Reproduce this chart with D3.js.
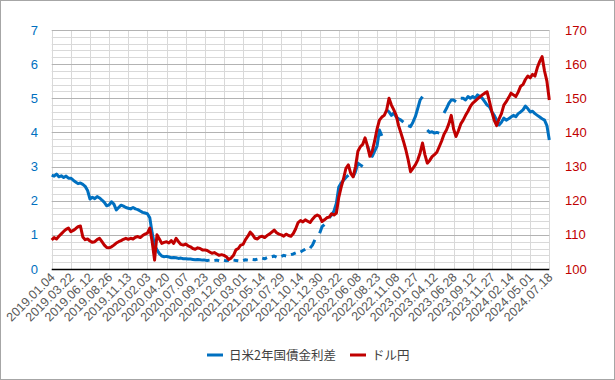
<!DOCTYPE html>
<html><head><meta charset="utf-8">
<script src="https://cdn.jsdelivr.net/npm/d3@7"></script>
<style>
html,body{margin:0;padding:0;background:#fff;}
svg{display:block;}
</style></head>
<body>
<svg id="chart" width="615" height="380"></svg>
<script>
// ---- data ----
const tickLabels = ["2019.01.04","2019.03.22","2019.06.12","2019.08.26","2019.11.13","2020.02.03","2020.04.20","2020.07.07","2020.09.23","2020.12.09","2021.03.01","2021.05.14","2021.07.29","2021.10.14","2021.12.30","2022.03.22","2022.06.08","2022.08.23","2022.11.08","2023.01.27","2023.04.12","2023.06.28","2023.09.12","2023.11.27","2024.02.14","2024.05.01","2024.07.18"];
const samplesPerTick = 8;
const seriesNames = ["日米2年国債金利差","ドル円"];
const spread = [
 2.75,2.72,2.78,2.70,2.73,2.68,2.72,2.66,
 2.66,2.60,2.55,2.50,2.52,2.48,2.42,2.30,
 2.05,2.10,2.06,2.12,2.08,2.02,1.95,1.85,
 1.88,1.97,1.90,1.73,1.80,1.87,1.84,1.80,
 1.78,1.76,1.80,1.76,1.74,1.70,1.66,1.64,
 1.62,1.50,1.05,0.70,0.56,0.45,0.38,0.36,
 0.37,0.35,0.33,0.34,0.33,0.31,0.32,0.30,
 0.30,0.29,0.29,0.28,0.27,0.28,0.27,0.26,
 0.26,0.25,0.26,null,0.25,0.26,0.24,null,
 0.25,0.24,0.25,null,0.26,0.25,0.24,null,
 0.25,0.27,0.26,null,0.28,0.27,0.29,null,
 0.32,0.30,0.33,null,0.36,0.38,0.35,null,
 0.37,0.40,0.38,null,0.42,0.44,0.47,null,
 0.50,0.54,0.58,null,0.61,0.70,0.85,null,
 1.05,1.24,1.30,null,1.50,1.58,1.70,1.93,
 2.40,2.52,2.60,2.68,2.75,null,2.70,2.85,
 3.10,3.05,3.00,null,3.60,3.40,3.30,3.45,
 3.60,4.07,3.90,null,4.66,4.60,4.50,4.57,
 4.45,4.40,4.36,4.30,null,4.20,4.17,4.30,
 4.46,4.70,4.95,5.05,null,4.07,4.00,4.02,
 3.98,4.00,3.98,null,4.57,4.70,4.85,4.95,
 4.95,4.90,null,5.00,5.00,4.95,5.05,5.00,
 5.05,5.00,5.10,5.05,5.00,4.90,4.80,4.75,
 4.60,4.50,4.36,4.22,4.30,4.42,4.36,4.40,
 4.45,4.50,4.46,4.55,4.60,4.66,4.77,4.70,
 4.60,4.62,4.55,4.50,4.45,4.40,4.36,4.20,
 3.78
];
const usdjpy = [
 108.5,109.2,108.8,109.6,110.3,111.0,111.6,112.0,
 110.9,111.3,111.8,112.4,112.6,109.4,108.6,108.8,
 108.2,107.8,108.0,108.6,109.0,108.0,107.0,106.3,
 106.2,106.5,107.0,107.6,108.0,108.3,108.7,109.0,
 108.7,109.0,108.8,109.3,109.5,109.2,109.8,110.2,
 110.5,112.0,108.0,102.6,110.0,108.8,107.5,107.8,
 108.0,107.6,108.3,107.5,109.0,108.0,107.2,107.0,
 107.3,106.8,106.5,106.0,105.8,106.2,106.0,105.6,
 105.6,105.4,105.0,104.6,104.8,104.4,104.0,104.2,
 104.0,103.6,102.8,103.2,104.0,105.6,106.0,107.0,
 107.2,108.6,109.6,110.8,110.0,109.0,108.8,109.4,
 109.6,109.2,109.8,110.2,110.8,111.4,110.6,110.2,
 110.0,109.6,110.2,109.8,109.6,110.4,111.8,113.6,
 114.2,113.8,114.4,114.0,113.6,114.6,115.4,115.8,
 115.4,113.9,114.4,115.0,115.2,116.2,115.8,116.4,
 121.0,124.0,126.5,129.5,130.5,128.0,127.0,130.0,
 134.5,135.8,136.5,138.4,136.0,133.0,134.5,137.5,
 141.0,143.6,144.5,145.0,146.5,150.0,148.0,146.6,
 145.0,142.0,139.8,137.5,135.0,132.0,128.5,129.5,
 130.5,131.9,134.0,136.9,133.5,131.0,131.8,132.9,
 133.5,134.2,135.8,137.5,139.5,140.7,142.5,145.0,
 141.0,138.8,140.5,142.5,143.6,145.0,146.2,147.6,
 148.6,149.2,149.8,150.4,151.0,151.5,151.9,149.0,
 146.0,143.5,142.0,144.0,145.5,148.0,149.0,150.2,
 151.5,151.0,150.5,151.8,153.5,154.0,155.5,156.5,
 156.0,157.0,156.5,159.0,160.8,162.2,158.0,155.0,
 149.5
];
const leftTicks = [0,1,2,3,4,5,6,7];
const rightTicks = [100,110,120,130,140,150,160,170];

// ---- layout ----
const W = 615, H = 380;
const plot = {left: 51.7, right: 549.3, top: 30, bottom: 269};
const blue = "#0070C0", red = "#C00000";

const svg = d3.select("#chart");
svg.append("rect").attr("x",0.5).attr("y",0.5).attr("width",W-1).attr("height",H-1)
  .attr("fill","#fff").attr("stroke","#a6a6a6");

const n = usdjpy.length;
const x = d3.scaleLinear().domain([0, n-1]).range([plot.left, plot.right]);
const yL = d3.scaleLinear().domain([0,7]).range([plot.bottom, plot.top]);
const yR = d3.scaleLinear().domain([100,170]).range([plot.bottom, plot.top]);

// minor horizontal gridlines
const minor = d3.range(0, 7.0001, 0.2).filter(v => Math.abs(v - Math.round(v)) > 1e-6);
svg.append("g").selectAll("line").data(minor).join("line")
  .attr("x1", plot.left).attr("x2", plot.right)
  .attr("y1", d => Math.round(yL(d))+0.5).attr("y2", d => Math.round(yL(d))+0.5)
  .attr("stroke","#d9d9d9").attr("stroke-width",1);
// vertical gridlines
const tickIdx = tickLabels.map((t,i) => i*samplesPerTick);
svg.append("g").selectAll("line").data(tickIdx).join("line")
  .attr("x1", d => Math.round(x(d))+0.5).attr("x2", d => Math.round(x(d))+0.5)
  .attr("y1", plot.top).attr("y2", plot.bottom)
  .attr("stroke","#d9d9d9").attr("stroke-width",1);
// major horizontal gridlines
svg.append("g").selectAll("line").data(leftTicks.slice(1)).join("line")
  .attr("x1", plot.left).attr("x2", plot.right)
  .attr("y1", d => Math.round(yL(d))+0.5).attr("y2", d => Math.round(yL(d))+0.5)
  .attr("stroke","#b3b3b3").attr("stroke-width",1);

// lines
const lineL = d3.line().defined(d => d != null).x((d,i) => x(i)).y(d => yL(d));
const lineR = d3.line().defined(d => d != null).x((d,i) => x(i)).y(d => yR(d));
svg.append("path").datum(spread).attr("d", lineL).attr("fill","none")
  .attr("stroke", blue).attr("stroke-width", 3).attr("stroke-linejoin","round");
svg.append("path").datum(usdjpy).attr("d", lineR).attr("fill","none")
  .attr("stroke", red).attr("stroke-width", 3).attr("stroke-linejoin","round");

// bottom axis line
svg.append("line").attr("x1", plot.left).attr("x2", plot.right)
  .attr("y1", plot.bottom+0.5).attr("y2", plot.bottom+0.5)
  .attr("stroke","#000").attr("stroke-width",1.5);

// left axis labels
svg.append("g").selectAll("text").data(leftTicks).join("text")
  .attr("x", 38).attr("y", d => yL(d)).attr("dy","0.35em")
  .attr("text-anchor","end").attr("fill", blue)
  .attr("font-family","Liberation Sans, Arial, sans-serif").attr("font-size", 13)
  .text(d => d);
// right axis labels
svg.append("g").selectAll("text").data(rightTicks).join("text")
  .attr("x", 565).attr("y", d => yR(d)).attr("dy","0.35em")
  .attr("text-anchor","start").attr("fill", red)
  .attr("font-family","Liberation Sans, Arial, sans-serif").attr("font-size", 13)
  .text(d => d);

// x labels
svg.append("g").selectAll("text").data(tickLabels).join("text")
  .attr("transform", (d,i) => `translate(${x(tickIdx[i])+4},${plot.bottom+9}) rotate(-45)`)
  .attr("text-anchor","end").attr("fill","#595959")
  .attr("font-family","Liberation Sans, Arial, sans-serif").attr("font-size", 12.5)
  .text(d => d);

// legend
const leg = svg.append("g").attr("font-family","'Noto Sans CJK JP', sans-serif").attr("font-size",12.5);
const legItems = [{name: seriesNames[0], color: blue, x: 207}, {name: seriesNames[1], color: red, x: 350}];
legItems.forEach(it => {
  leg.append("line").attr("x1", it.x).attr("x2", it.x+16).attr("y1", 355).attr("y2", 355)
    .attr("stroke", it.color).attr("stroke-width", 3);
  leg.append("text").attr("x", it.x+22).attr("y", 355).attr("dy","0.36em")
    .attr("fill","#404040").text(it.name);
});
</script>
</body></html>
